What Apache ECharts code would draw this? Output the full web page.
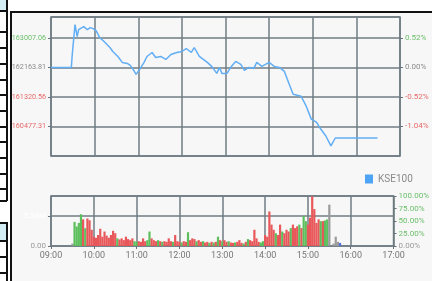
<!DOCTYPE html>
<html>
<head>
<meta charset="utf-8">
<script src="https://cdn.jsdelivr.net/npm/echarts@6/dist/echarts.min.js"></script>
<style>
  html, body { margin: 0; padding: 0; background: #fff; }
  .wrap { position: relative; width: 432px; height: 281px; overflow: hidden; }
  .panel { position: absolute; left: 10px; top: 11px; right: 0; bottom: 0;
           border-left: 2px solid #111; border-top: 2px solid #111; background: #f7f7f7; }
  .cell { position: absolute; left: 0; width: 7px; background: #d4edf4; }
  .h { position: absolute; left: 0; width: 7px; height: 1.5px; background: #111; }
  .v { position: absolute; width: 1.5px; background: #111; }
  #chart { position: absolute; left: 0; top: 0; width: 432px; height: 281px; }
</style>
</head>
<body>
<div class="wrap">
  <!-- bout de tableau à gauche -->
  <div class="cell" style="top:0;height:10px"></div>
  <div class="cell" style="top:223px;height:17px"></div>
  <div class="v" style="left:6px;top:0;height:201px"></div>
  <div class="h" style="top:10px"></div>
  <div class="h" style="top:31px"></div>
  <div class="h" style="top:47px"></div>
  <div class="h" style="top:63px"></div>
  <div class="h" style="top:79px"></div>
  <div class="h" style="top:94px"></div>
  <div class="h" style="top:110px"></div>
  <div class="h" style="top:126px"></div>
  <div class="h" style="top:141px"></div>
  <div class="h" style="top:157px"></div>
  <div class="h" style="top:173px"></div>
  <div class="h" style="top:188px"></div>
  <div class="h" style="top:200px;height:2px"></div>
  <div class="h" style="top:222px"></div>
  <div class="h" style="top:240px"></div>
  <div class="h" style="top:256px"></div>
  <div class="h" style="top:272px"></div>
  <div class="v" style="left:6px;top:222px;height:59px"></div>
  <div class="panel"></div>
  <div id="chart"></div>
</div>
<script>
// clôture veille et axe des prix
const prevClose = 162163.81
const priceStep = 843.25
const priceMin = 159634.06
const priceMax = 163603

const hourLabels = ['09:00', '10:00', '11:00', '12:00', '13:00', '14:00', '15:00', '16:00', '17:00']

// minutes depuis 09:00 et indice KSE100
const priceTimes = [0, 28, 29, 33, 36, 38, 45, 50, 54, 58, 62, 67, 73, 77, 81, 85, 92, 98, 105, 109,
  113, 117, 122, 128, 132, 139, 144, 151, 158, 165, 173, 180, 186, 193, 197, 204, 215, 221, 228, 232,
  235, 242, 248, 254, 261, 266, 272, 279, 283, 290, 300, 307, 314, 321, 325, 333, 344, 351, 358, 365,
  371, 378, 385, 391, 449]
const priceValues = [162163.81, 162163.81, 162476, 163384, 163044, 163243, 163328, 163243, 163299, 163271,
  163214, 163015, 162902, 162817, 162732, 162618, 162476, 162306, 162277, 162221,
  162107, 161965, 162107, 162306, 162476, 162590, 162448, 162476, 162391, 162533,
  162590, 162618, 162703, 162590, 162732, 162476, 162306, 162192, 161993, 162164,
  161993, 161993, 162192, 162334, 162249, 162079, 162164, 162135, 162306, 162192,
  162306, 162192, 162164, 162050, 161823, 161397, 161340, 161057, 160687, 160602,
  160404, 160205, 159921, 160148, 160148]

// volumes (millions), une barre toutes les 3 minutes à partir de 09:30
const volStart = 30
const volStep = 3
const volValues = [0.27, 2.72, 2.20, 2.60, 3.58, 3.00, 2.00, 3.10, 2.90, 1.83,
  1.05, 0.93, 1.24, 1.94, 1.05, 1.63, 1.17, 0.93, 1.24, 1.71,
  1.44, 0.86, 0.74, 0.86, 0.66, 1.05, 0.78, 0.66, 0.86, 0.54,
  0.47, 0.54, 0.47, 0.86, 0.54, 0.66, 1.63, 0.86, 0.66, 0.54,
  0.66, 0.54, 0.47, 0.54, 0.47, 0.86, 0.54, 0.47, 1.24, 0.54,
  0.47, 0.39, 0.54, 0.47, 1.55, 0.66, 0.86, 0.78, 0.54, 0.66,
  0.47, 0.54, 0.39, 0.47, 0.35, 0.47, 0.39, 0.47, 1.05, 0.66,
  0.54, 0.66, 0.47, 0.54, 0.39, 0.35, 0.39, 0.47, 0.66, 0.35,
  0.27, 0.47, 0.78, 0.66, 0.54, 1.83, 0.86, 0.47, 0.39, 0.54,
  1.24, 1.05, 3.89, 2.41, 1.83, 1.44, 1.24, 2.41, 1.63, 1.44,
  1.83, 1.63, 2.02, 2.41, 2.02, 2.22, 2.41, 2.02, 3.38, 2.80,
  2.41, 3.19, 5.60, 4.16, 2.60, 3.00, 2.80, 2.80, 2.88, 3.00,
  4.66, 0, 0.27, 1.05, 0.47, 0.35]
const volDirs = 'nggggrgrrrrrrrrrrrrrrgrrrrrrrggrrrrggrrrgrgrrrrgrrrgrrgrrrgrrgrrgrgrgrgrrgrrgrrrgrgrrrrrggrrrrrgrrgrrrgrrrgrggrrrrrrgrggnnnnn'
const volPct = [0, 25, 50, 75, 100]

const volColors = { g: '#5cbf5c', r: '#e8585a', n: '#9a9a9a' }
const gridLine = { color: '#6f7c83', width: 1.5 }
const font = "Roboto, sans-serif"

const priceColor = (v) => {
  const d = Number(v) - prevClose
  if (Math.abs(d) < 1) return '#8c8c8c'
  return d > 0 ? '#6cbf6c' : '#e66a6a'
}

const chart = echarts.init(document.getElementById('chart'), null, { renderer: 'canvas' })

chart.setOption({
  animation: false,
  legend: {
    data: ['KSE100'],
    left: 360,
    top: 169,
    icon: 'rect',
    itemWidth: 8,
    itemHeight: 9,
    itemGap: 4,
    textStyle: { color: '#8a8a8a', fontSize: 10, fontFamily: font }
  },
  grid: [
    { left: 51, right: 32, top: 17, height: 139, show: true, borderColor: '#66737a', borderWidth: 1.5 },
    { left: 51, right: 32, top: 196, height: 50, show: true, borderColor: '#66737a', borderWidth: 1.5 }
  ],
  xAxis: [
    {
      gridIndex: 0, type: 'value', min: 0, max: 480, interval: 60,
      axisLine: { show: false }, axisTick: { show: false }, axisLabel: { show: false },
      splitLine: { lineStyle: gridLine }
    },
    {
      gridIndex: 1, type: 'value', min: 0, max: 480, interval: 60,
      axisLine: { show: false },
      axisTick: { show: true, length: 3, lineStyle: { color: '#66737a' } },
      axisLabel: {
        margin: 5, color: '#777', fontSize: 9, fontFamily: font,
        formatter: (v) => hourLabels[Math.round(v / 60)]
      },
      splitLine: { lineStyle: gridLine }
    }
  ],
  yAxis: [
    {
      gridIndex: 0, type: 'value', min: priceMin, max: priceMax, interval: priceStep,
      axisLine: { show: false },
      axisTick: { show: true, length: 3, lineStyle: { color: '#66737a' } },
      axisLabel: {
        margin: 5, fontSize: 7.2, fontFamily: font, showMinLabel: false, showMaxLabel: false,
        color: priceColor,
        formatter: (v) => v.toFixed(2)
      },
      splitLine: { lineStyle: gridLine }
    },
    {
      gridIndex: 0, type: 'value', position: 'right', min: priceMin, max: priceMax, interval: priceStep,
      axisLine: { show: false },
      axisTick: { show: true, length: 3, lineStyle: { color: '#66737a' } },
      axisLabel: {
        margin: 5, fontSize: 8, fontFamily: font, showMinLabel: false, showMaxLabel: false,
        color: priceColor,
        formatter: (v) => ((v - prevClose) / prevClose * 100).toFixed(2) + '%'
      },
      splitLine: { show: false }
    },
    {
      gridIndex: 1, type: 'value', min: 0, max: 3.38 / 0.6, interval: 3.38,
      axisLine: { show: false },
      axisTick: { show: true, length: 3, lineStyle: { color: '#66737a' } },
      axisLabel: {
        margin: 5, fontSize: 8, fontFamily: font, showMaxLabel: false,
        color: (v) => (Number(v) === 0 ? '#9a9a9a' : '#ffffff'),
        formatter: (v) => (v === 0 ? '0.00' : v.toFixed(2) + 'M')
      },
      splitLine: { lineStyle: gridLine }
    },
    {
      gridIndex: 1, type: 'value', position: 'right', min: 0, max: 100, interval: 25,
      axisLine: { show: false },
      axisTick: { show: true, length: 3, lineStyle: { color: '#66737a' } },
      axisLabel: {
        margin: 5, fontSize: 8, fontFamily: font,
        color: (v) => (Number(v) === 0 ? '#9a9a9a' : '#6cbf6c'),
        formatter: (v) => volPct[Math.round(v / 25)].toFixed(2) + '%'
      },
      splitLine: { show: false }
    }
  ],
  series: [
    {
      name: 'KSE100',
      type: 'line',
      xAxisIndex: 0,
      yAxisIndex: 0,
      showSymbol: false,
      color: '#4ea4f4',
      lineStyle: { color: '#62aef5', width: 1.5 },
      data: priceTimes.map((t, i) => [t, priceValues[i]])
    },
    {
      name: 'volume',
      type: 'bar',
      xAxisIndex: 1,
      yAxisIndex: 2,
      barWidth: 2.2,
      data: volValues.map((v, i) => ({
        value: [volStart + i * volStep, v],
        itemStyle: { color: volColors[volDirs[i]] }
      }))
    }
  ]
})
</script>
</body>
</html>
